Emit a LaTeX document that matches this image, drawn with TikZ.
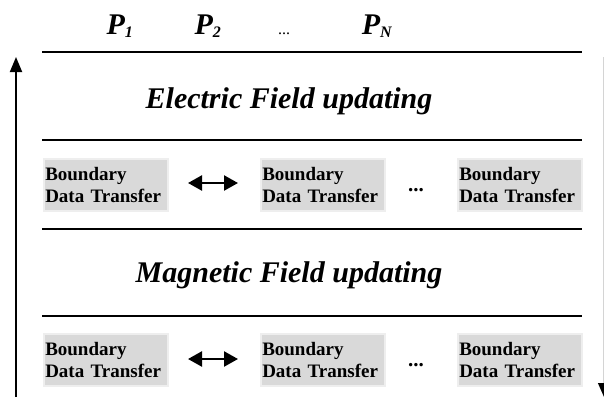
\documentclass[tikz,border=0pt]{standalone}
\usepackage{fontspec}
\setmainfont{Liberation Serif}
\usetikzlibrary{arrows.meta}
\definecolor{boxfill}{HTML}{D9D9D9}
\definecolor{boxedge}{HTML}{EEEEEE}
\definecolor{sidegray}{HTML}{D4D4D4}
\begin{document}
\begin{tikzpicture}[x=1pt,y=-1pt,
  rule/.style={line width=1.8pt,black},
  bdt/.style={rectangle,fill=boxfill,draw=boxedge,line width=1.5pt,
    minimum width=124pt,minimum height=52pt,text width=121pt,
    inner xsep=1.5pt,inner ysep=0pt,align=left,anchor=north west,
    font=\fontsize{19}{21.5}\selectfont\bfseries},
  proc/.style={font=\fontsize{30}{32}\selectfont\bfseries\itshape,anchor=base},
  sub/.style={font=\fontsize{16}{16}\selectfont\bfseries\itshape},
  phase/.style={font=\fontsize{30}{32}\selectfont\bfseries\itshape,anchor=base},
  dots/.style={font=\fontsize{21}{22}\selectfont\bfseries,anchor=base},
  swap/.style={line width=2.4pt,{Triangle[length=14pt,width=15pt]}-{Triangle[length=14pt,width=15pt]}}
]
\useasboundingbox (0,0) rectangle (604,402);

% processor labels
\node[proc] (p1) at (120,34) {P\textsubscript{\fontsize{16}{16}\selectfont 1}};
\node[proc] (p2) at (208,34) {P\textsubscript{\fontsize{16}{16}\selectfont 2}};
\node[font=\fontsize{16}{16}\selectfont,anchor=base] (pd) at (284,34) {...};
\node[proc] (pn) at (377,34) {P\textsubscript{\fontsize{16}{16}\selectfont N}};

% separating rules
\coordinate (r1a) at (42,52);  \coordinate (r1b) at (582,52);
\coordinate (r2a) at (42,140); \coordinate (r2b) at (582,140);
\coordinate (r3a) at (42,229); \coordinate (r3b) at (582,229);
\coordinate (r4a) at (42,316); \coordinate (r4b) at (582,316);
\draw[rule] (r1a) -- (r1b);
\draw[rule] (r2a) -- (r2b);
\draw[rule] (r3a) -- (r3b);
\draw[rule] (r4a) -- (r4b);

% phases
\node[phase] (ef) at (289,108) {Electric Field updating};
\node[phase] (mf) at (289,282) {Magnetic Field updating};

% boundary data transfer, first row
\node[bdt] (b11) at (43,158) {Boundary\\Data Transfer};
\node[bdt] (b12) at (260,158) {Boundary\\Data Transfer};
\node[bdt] (b13) at (457,158) {Boundary\\Data Transfer};
\draw[swap] (188,183) -- (238,183);
\node[dots] (d1) at (416,191) {...};

% boundary data transfer, second row
\node[bdt] (b21) at (43,333) {Boundary\\Data Transfer};
\node[bdt] (b22) at (260,333) {Boundary\\Data Transfer};
\node[bdt] (b23) at (457,333) {Boundary\\Data Transfer};
\draw[swap] (188,359) -- (238,359);
\node[dots] (d2) at (416,366) {...};

% time axes
\coordinate (la) at (16,397); \coordinate (lb) at (16,57);
\draw[line width=1.8pt,-{Triangle[length=15pt,width=12pt]}] (la) -- (lb);
\coordinate (ra) at (604,57); \coordinate (rb) at (604,397);
\draw[sidegray,line width=1.2pt,-{Triangle[length=14pt,width=12pt,color=black]}] (ra) -- (rb);
\end{tikzpicture}
\end{document}
